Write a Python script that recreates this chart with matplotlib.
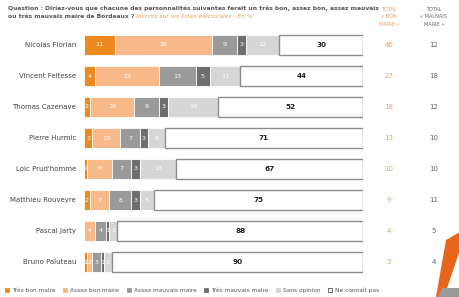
import matplotlib
matplotlib.use("Agg")
import matplotlib.pyplot as plt
from matplotlib.patches import Patch, Polygon

# data
names = ["Nicolas Florian", "Vincent Feltesse", "Thomas Cazenave", "Pierre Hurmic",
         "Loic Prud'homme", "Matthieu Rouveyre", "Pascal Jarty", "Bruno Paluteau"]
tres_bon = [11, 4, 2, 3, 1, 2, 0, 1]
assez_bon = [35, 23, 16, 10, 9, 7, 4, 2]
assez_mauvais = [9, 13, 9, 7, 7, 8, 4, 3]
tres_mauvais = [3, 5, 3, 3, 3, 3, 1, 1]
sans_opinion = [12, 11, 18, 6, 13, 5, 3, 3]
ne_connait_pas = [30, 44, 52, 71, 67, 75, 88, 90]
total_bon = [46, 27, 18, 13, 10, 9, 4, 3]
total_mauvais = [12, 18, 12, 10, 10, 11, 5, 4]

series = [tres_bon, assez_bon, assez_mauvais, tres_mauvais, sans_opinion, ne_connait_pas]
labels = ["Très bon maire", "Assez bon maire", "Assez mauvais maire",
          "Très mauvais maire", "Sans opinion", "Ne connaît pas"]
colors = ["#EC8A1F", "#F8B98A", "#9A9A9A", "#6E6E6E", "#D6D6D6", "#FFFFFF"]
text_colors = ["white", "white", "white", "white", "white", "#222222"]

W, H = 460, 297
fig = plt.figure(figsize=(W / 100, H / 100), dpi=100)
fig.patch.set_facecolor("white")

left, right = 84, 363
top, bottom = 29.5, 277.5
ax = fig.add_axes([left / W, 1 - bottom / H, (right - left) / W, (bottom - top) / H])
ax.set_xlim(0, 100)
ax.set_ylim(len(names), 0)
ax.axis("off")

ys = [i + 0.5 for i in range(len(names))]
starts = [0] * len(names)
for k, vals in enumerate(series):
    last = k == len(series) - 1
    ax.barh(ys, vals, left=starts, height=0.62, color=colors[k],
            edgecolor="#8C8C8C" if last else "white",
            linewidth=1.0 if last else 0.6)
    for i, v in enumerate(vals):
        if v > 0:
            ax.text(starts[i] + v / 2, ys[i], str(v), ha="center", va="center",
                    fontsize=4.6 if not last else 5.2, color=text_colors[k],
                    fontweight="bold" if last else "normal")
    starts = [s + v for s, v in zip(starts, vals)]

px = (right - left) / 100.0
for i, n in enumerate(names):
    ax.text(-8 / px, ys[i], n, ha="right", va="center", fontsize=5, color="#444444")
    ax.text((389 - left) / px, ys[i], str(total_bon[i]), ha="center", va="center",
            fontsize=5, color="#D8A36A")
    ax.text((434 - left) / px, ys[i], str(total_mauvais[i]), ha="center", va="center",
            fontsize=5, color="#666666")

# header
fig.text(8 / W, 1 - 8 / H, "Question : Diriez-vous que chacune des personnalités suivantes ferait un très bon, assez bon, assez mauvais",
         fontsize=4.3, fontweight="bold", color="#555555", va="center")
t2 = fig.text(8 / W, 1 - 17 / H, "ou très mauvais maire de Bordeaux ? ",
              fontsize=4.3, fontweight="bold", color="#555555", va="center")
fig.canvas.draw()
bb = t2.get_window_extent()
fig.text(bb.x1 / W, 1 - 17 / H, "Inscrits sur les listes électorales - En %",
         fontsize=4.3, style="italic", color="#E0A060", va="center")

fig.text(389 / W, 1 - 17 / H, "TOTAL\n« BON\nMAIRE »", ha="center", va="center",
         fontsize=3.6, color="#E0A060", linespacing=1.6)
fig.text(434 / W, 1 - 17 / H, "TOTAL\n« MAUVAIS\nMAIRE »", ha="center", va="center",
         fontsize=3.6, color="#666666", linespacing=1.6)

# legend
handles = [Patch(facecolor=c, edgecolor="#555555" if c == "#FFFFFF" else c, linewidth=0.6)
           for c in colors]
fig.legend(handles, labels, loc="center left", bbox_to_anchor=(0.0, 1 - 290 / H),
           ncol=6, frameon=False, fontsize=4.2, handlelength=0.7, handleheight=0.7,
           handletextpad=0.5, columnspacing=1.3, labelcolor="#555555")

# corner decoration
fig.patches.append(Polygon([(446 / W, 1 - 240 / H), (460 / W, 1 - 232 / H),
                            (460 / W, 1 - 250 / H), (444 / W, 1.0 - 297 / H),
                            (436 / W, 0.0)], closed=True, transform=fig.transFigure,
                           facecolor="#E8661C", edgecolor="none"))
fig.patches.append(Polygon([(442 / W, 1 - 288 / H), (460 / W, 1 - 288 / H),
                            (460 / W, 0.0), (438 / W, 0.0)], closed=True,
                           transform=fig.transFigure, facecolor="#9A9A9A", edgecolor="none"))

fig.savefig("out.png", dpi=100, facecolor="white")
